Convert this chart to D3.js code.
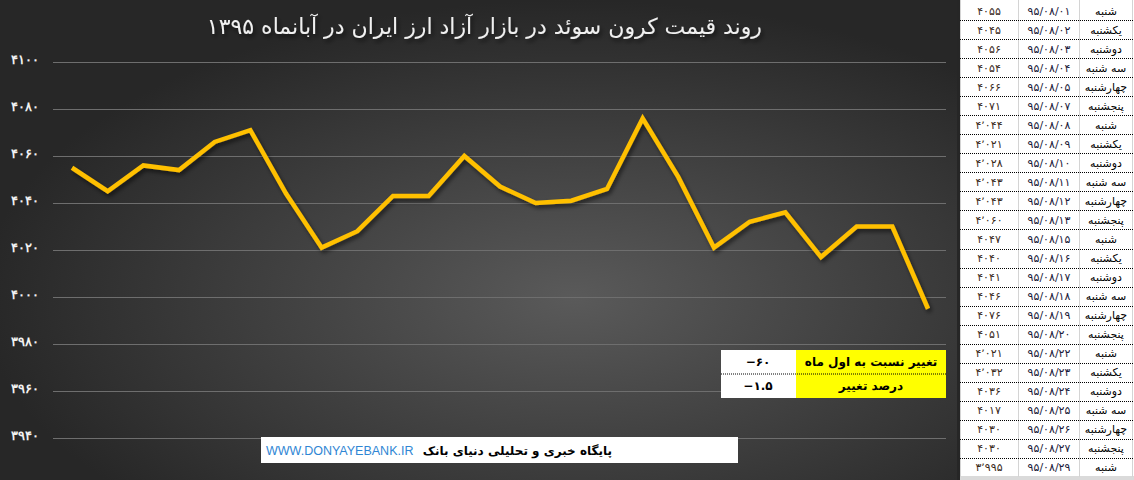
<!DOCTYPE html>
<html>
<head>
<meta charset="utf-8">
<script src="https://cdn.jsdelivr.net/npm/d3@7"></script>
<style>
  html, body { margin: 0; padding: 0; background: #262626; }
  svg { display: block; font-family: 'DejaVu Sans', sans-serif; }
</style>
</head>
<body>
<svg id="chart" width="1134" height="480"></svg>
<script>
// Data (Aban 1395)
var prices = [4055, 4045, 4056, 4054, 4066, 4071, 4044, 4021, 4028, 4043, 4043, 4060, 4047,
              4040, 4041, 4046, 4076, 4051, 4021, 4032, 4036, 4017, 4030, 4030, 3995];
var priceLabels = ['۴۰۵۵', '۴۰۴۵', '۴۰۵۶', '۴۰۵۴', '۴۰۶۶', '۴۰۷۱', '۴٬۰۴۴', '۴٬۰۲۱', '۴٬۰۲۸',
                   '۴٬۰۴۳', '۴٬۰۴۳', '۴٬۰۶۰', '۴۰۴۷', '۴۰۴۰', '۴۰۴۱', '۴۰۴۶', '۴۰۷۶', '۴۰۵۱',
                   '۴٬۰۲۱', '۴٬۰۳۲', '۴۰۳۶', '۴۰۱۷', '۴۰۳۰', '۴۰۳۰', '۳٬۹۹۵'];
var dates = ['۹۵/۰۸/۰۱', '۹۵/۰۸/۰۲', '۹۵/۰۸/۰۳', '۹۵/۰۸/۰۴', '۹۵/۰۸/۰۵', '۹۵/۰۸/۰۷', '۹۵/۰۸/۰۸',
             '۹۵/۰۸/۰۹', '۹۵/۰۸/۱۰', '۹۵/۰۸/۱۱', '۹۵/۰۸/۱۲', '۹۵/۰۸/۱۳', '۹۵/۰۸/۱۵', '۹۵/۰۸/۱۶',
             '۹۵/۰۸/۱۷', '۹۵/۰۸/۱۸', '۹۵/۰۸/۱۹', '۹۵/۰۸/۲۰', '۹۵/۰۸/۲۲', '۹۵/۰۸/۲۳', '۹۵/۰۸/۲۴',
             '۹۵/۰۸/۲۵', '۹۵/۰۸/۲۶', '۹۵/۰۸/۲۷', '۹۵/۰۸/۲۹'];
var days = ['شنبه', 'یکشنبه', 'دوشنبه', 'سه شنبه', 'چهارشنبه', 'پنجشنبه',
            'شنبه', 'یکشنبه', 'دوشنبه', 'سه شنبه', 'چهارشنبه', 'پنجشنبه',
            'شنبه', 'یکشنبه', 'دوشنبه', 'سه شنبه', 'چهارشنبه', 'پنجشنبه',
            'شنبه', 'یکشنبه', 'دوشنبه', 'سه شنبه', 'چهارشنبه', 'پنجشنبه', 'شنبه'];
var yTicks = [3940, 3960, 3980, 4000, 4020, 4040, 4060, 4080, 4100];
var summaryLabels = ['تغییر نسبت به اول ماه', 'درصد تغییر'];
var summaryValues = ['−۶۰', '−۱.۵'];

var title = 'روند قیمت کرون سوئد در بازار آزاد ارز ایران در آبانماه ۱۳۹۵';
var site = 'WWW.DONYAYEBANK.IR';
var siteName = 'پایگاه خبری و تحلیلی دنیای بانک';

function fa(n) {
  return String(n).replace(/\d/g, function (d) { return '۰۱۲۳۴۵۶۷۸۹'[d]; });
}

var svg = d3.select('#chart');
var defs = svg.append('defs');

var grad = defs.append('radialGradient')
  .attr('id', 'bg')
  .attr('cx', '0.6').attr('cy', '0.62').attr('r', '0.62');
grad.append('stop').attr('offset', '0').attr('stop-color', '#5a5a5a');
grad.append('stop').attr('offset', '1').attr('stop-color', '#272727');

var shadow = defs.append('filter').attr('id', 'shadow')
  .attr('x', '-5%').attr('y', '-10%').attr('width', '110%').attr('height', '130%');
shadow.append('feDropShadow')
  .attr('dx', 2).attr('dy', 3).attr('stdDeviation', 2)
  .attr('flood-color', '#000').attr('flood-opacity', 0.55);

// chart background
svg.append('rect')
  .attr('x', 0).attr('y', 0).attr('width', 957).attr('height', 480)
  .attr('fill', 'url(#bg)');

var x = d3.scalePoint()
  .domain(d3.range(prices.length))
  .range([72, 928]);
var y = d3.scaleLinear()
  .domain([3940, 4100])
  .range([438, 62]);

var yAxis = svg.append('g')
  .attr('transform', 'translate(53,0)')
  .call(d3.axisLeft(y)
    .tickValues(yTicks)
    .tickSize(-893)
    .tickPadding(14)
    .tickFormat(fa));
yAxis.select('.domain').remove();
yAxis.selectAll('.tick line')
  .attr('stroke', '#6e6e6e')
  .attr('stroke-width', 1);
yAxis.selectAll('.tick text')
  .attr('fill', '#f2f2f2')
  .attr('font-size', 12.5)
  .attr('font-weight', 'bold')
  .attr('dy', '0.15em');

var line = d3.line()
  .x(function (d, i) { return x(i); })
  .y(function (d) { return y(d); });

svg.append('path')
  .datum(prices)
  .attr('d', line)
  .attr('fill', 'none')
  .attr('stroke', '#ffc000')
  .attr('stroke-width', 4.5)
  .attr('stroke-linejoin', 'miter')
  .attr('filter', 'url(#shadow)');

// title
svg.append('text')
  .attr('x', 762).attr('y', 34)
  .attr('direction', 'rtl')
  .attr('text-anchor', 'start')
  .attr('font-size', 22)
  .attr('fill', '#f0f0f0')
  .attr('filter', 'url(#shadow)')
  .text(title);

// summary box (yellow)
var sumY = d3.scaleBand().domain(d3.range(summaryLabels.length)).range([350, 398]);
var sum = svg.append('g');
sum.selectAll('rect.v')
  .data(summaryValues).enter().append('rect')
  .attr('class', 'v')
  .attr('x', 721).attr('y', function (d, i) { return sumY(i); })
  .attr('width', 75).attr('height', sumY.bandwidth())
  .attr('fill', '#fff');
sum.selectAll('rect.l')
  .data(summaryLabels).enter().append('rect')
  .attr('class', 'l')
  .attr('x', 796).attr('y', function (d, i) { return sumY(i); })
  .attr('width', 150).attr('height', sumY.bandwidth())
  .attr('fill', '#ffff00');
sum.append('line')
  .attr('x1', 721).attr('x2', 946)
  .attr('y1', sumY(1)).attr('y2', sumY(1))
  .attr('stroke', '#000').attr('stroke-dasharray', '1,1');
sum.selectAll('text.l')
  .data(summaryLabels).enter().append('text')
  .attr('class', 'l')
  .attr('x', 871).attr('y', function (d, i) { return sumY(i) + sumY.bandwidth() / 2 + 4; })
  .attr('text-anchor', 'middle')
  .attr('font-size', 12).attr('font-weight', 'bold')
  .attr('fill', '#000')
  .text(function (d) { return d; });
sum.selectAll('text.v')
  .data(summaryValues).enter().append('text')
  .attr('class', 'v')
  .attr('x', 758).attr('y', function (d, i) { return sumY(i) + sumY.bandwidth() / 2 + 4; })
  .attr('text-anchor', 'middle')
  .attr('direction', 'ltr')
  .attr('font-size', 12).attr('font-weight', 'bold')
  .attr('fill', '#000')
  .text(function (d) { return d; });

// footer
svg.append('rect')
  .attr('x', 261).attr('y', 437).attr('width', 477).attr('height', 26)
  .attr('fill', '#fff');
svg.append('text')
  .attr('x', 266).attr('y', 455)
  .attr('font-family', 'Liberation Sans, sans-serif')
  .attr('font-size', 12.5)
  .attr('fill', '#2f86d4')
  .text(site);
svg.append('text')
  .attr('x', 612).attr('y', 455)
  .attr('direction', 'rtl')
  .attr('font-size', 12).attr('font-weight', 'bold')
  .attr('fill', '#000')
  .text(siteName);

// data sheet on the right
svg.append('rect')
  .attr('x', 957).attr('y', 0).attr('width', 3).attr('height', 480)
  .attr('fill', '#262626');
svg.append('rect')
  .attr('x', 960).attr('y', 0).attr('width', 174).attr('height', 480)
  .attr('fill', '#fff');
svg.append('rect')
  .attr('x', 960).attr('y', 476).attr('width', 174).attr('height', 4)
  .attr('fill', '#dadada');

var rowY = d3.scaleBand().domain(d3.range(prices.length)).range([1, 477]);
var colX = [960, 1018, 1079, 1132];

svg.selectAll('line.col')
  .data(colX).enter().append('line')
  .attr('class', 'col')
  .attr('x1', function (d) { return d + 0.5; }).attr('x2', function (d) { return d + 0.5; })
  .attr('y1', 0).attr('y2', 477)
  .attr('stroke', '#d4d4d4');
svg.selectAll('line.row')
  .data(d3.range(1, prices.length)).enter().append('line')
  .attr('class', 'row')
  .attr('x1', 960).attr('x2', 1134)
  .attr('y1', function (i) { return Math.round(rowY(i)) + 0.5; })
  .attr('y2', function (i) { return Math.round(rowY(i)) + 0.5; })
  .attr('stroke', '#000').attr('stroke-dasharray', '1,1');

var cells = svg.selectAll('g.rowcells')
  .data(prices).enter().append('g')
  .attr('class', 'rowcells')
  .attr('transform', function (d, i) { return 'translate(0,' + (rowY(i) + rowY.bandwidth() / 2 + 4) + ')'; })
  .attr('font-size', 11)
  .attr('text-anchor', 'middle');
cells.append('text')
  .attr('x', 989)
  .attr('direction', 'ltr')
  .attr('fill', '#3a2a1a')
  .text(function (d, i) { return priceLabels[i]; });
cells.append('text')
  .attr('x', 1049)
  .attr('direction', 'ltr')
  .attr('fill', '#1a1a3a')
  .text(function (d, i) { return dates[i]; });
cells.append('text')
  .attr('x', 1106)
  .attr('direction', 'rtl')
  .attr('fill', '#000')
  .text(function (d, i) { return days[i]; });
</script>
</body>
</html>
